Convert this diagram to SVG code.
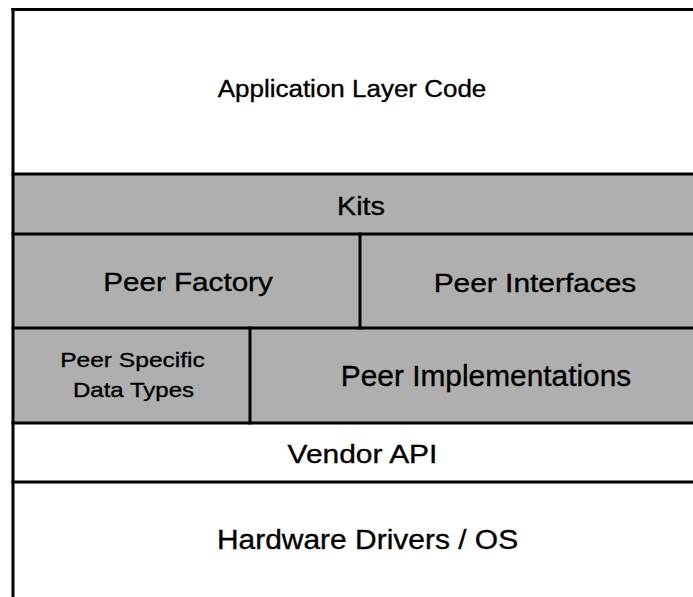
<svg xmlns="http://www.w3.org/2000/svg" width="693" height="597" viewBox="0 0 693 597">
  <style>
    .bg { fill: #ffffff; }
    .shade { fill: #afafaf; }
    .white { fill: #ffffff; }
    .lbl { font-family: "Liberation Sans", Arial, Helvetica, sans-serif; fill: #000000; stroke: #000000; stroke-width: 0.35; text-anchor: middle; }
    .rule { stroke: #000000; stroke-width: 3; fill: none; stroke-linecap: square; }
  </style>
  <rect class="bg" x="0" y="0" width="693" height="597"/>

  <g id="app-layer">
    <rect class="white" x="13" y="9" width="680" height="165"/>
    <text class="lbl" transform="translate(352,96.5) scale(1.13,1)" x="0" y="0" font-size="23">Application Layer Code</text>
  </g>

  <g id="kits">
    <rect class="shade" x="13" y="174" width="680" height="60"/>
    <text class="lbl" transform="translate(361,215) scale(1.15,1)" x="0" y="0" font-size="25">Kits</text>
  </g>

  <g id="peer-factory">
    <rect class="shade" x="13" y="234" width="347" height="94"/>
    <text class="lbl" transform="translate(188,290.5) scale(1.14,1)" x="0" y="0" font-size="26">Peer Factory</text>
  </g>

  <g id="peer-interfaces">
    <rect class="shade" x="360" y="234" width="333" height="94"/>
    <text class="lbl" transform="translate(535,291.5) scale(1.15,1)" x="0" y="0" font-size="26">Peer Interfaces</text>
  </g>

  <g id="peer-specific-data-types">
    <rect class="shade" x="13" y="328" width="237" height="95"/>
    <text class="lbl" transform="translate(132.5,367) scale(1.17,1)" x="0" y="0" font-size="21">Peer Specific</text>
    <text class="lbl" transform="translate(133.5,397) scale(1.145,1)" x="0" y="0" font-size="21">Data Types</text>
  </g>

  <g id="peer-implementations">
    <rect class="shade" x="250" y="328" width="443" height="95"/>
    <text class="lbl" transform="translate(486,385.5) scale(1.03,1)" x="0" y="0" font-size="29">Peer Implementations</text>
  </g>

  <g id="vendor-api">
    <rect class="white" x="13" y="423" width="680" height="59"/>
    <text class="lbl" transform="translate(362.5,462.5) scale(1.13,1)" x="0" y="0" font-size="26.5">Vendor API</text>
  </g>

  <g id="hardware-drivers-os">
    <rect class="white" x="13" y="482" width="680" height="115"/>
    <text class="lbl" transform="translate(367.5,549) scale(1.07,1)" x="0" y="0" font-size="28">Hardware Drivers / OS</text>
  </g>

  <g id="borders">
    <line class="rule" x1="13" y1="9.5" x2="695" y2="9.5"/>
    <line class="rule" x1="13" y1="9.5" x2="13" y2="599"/>
    <line class="rule" x1="13" y1="174" x2="695" y2="174"/>
    <line class="rule" x1="13" y1="234" x2="695" y2="234"/>
    <line class="rule" x1="13" y1="328" x2="695" y2="328"/>
    <line class="rule" x1="13" y1="423" x2="695" y2="423"/>
    <line class="rule" x1="13" y1="482" x2="695" y2="482"/>
    <line class="rule" x1="360" y1="234" x2="360" y2="328"/>
    <line class="rule" x1="250" y1="328" x2="250" y2="423"/>
  </g>
</svg>
